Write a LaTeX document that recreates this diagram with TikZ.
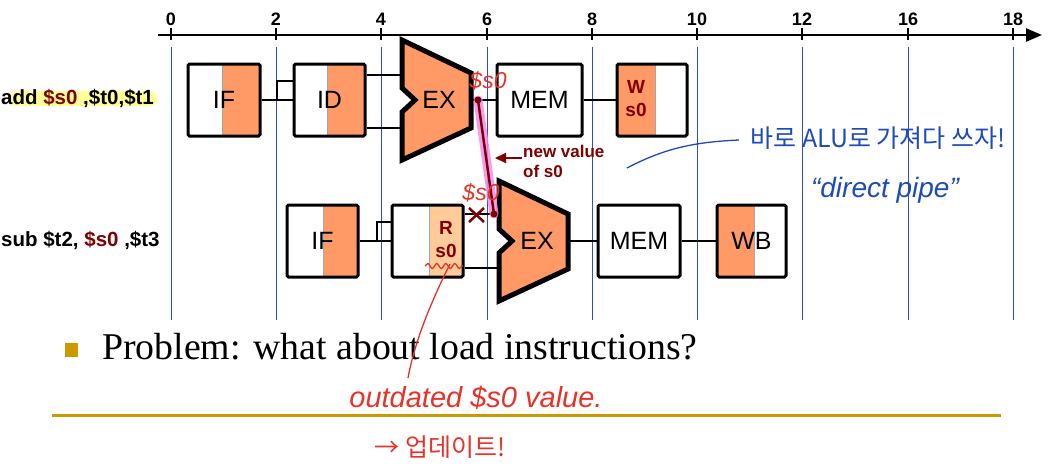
\documentclass[tikz,border=0pt]{standalone}
\usepackage{fontspec}
\setmainfont{Liberation Serif}
\setsansfont{Liberation Sans}
\newfontfamily\krfont{Noto Sans CJK KR}
\usetikzlibrary{arrows.meta,decorations.pathmorphing}
\definecolor{stageorange}{RGB}{255,153,102}
\definecolor{lightorange}{RGB}{255,204,153}
\definecolor{darkred}{RGB}{128,0,0}
\definecolor{gridblue}{RGB}{45,75,220}
\definecolor{hlyellow}{RGB}{255,255,150}
\definecolor{goldline}{RGB}{204,153,0}
\definecolor{inkred}{RGB}{232,50,40}
\definecolor{inkblue}{RGB}{30,75,185}
\definecolor{fwdpink}{RGB}{240,140,240}
\begin{document}
\begin{tikzpicture}[x=1pt,y=-1pt,
  stagebox/.style={draw, line width=3pt, rounded corners=1.5pt, minimum height=72pt, inner sep=0pt,
    font=\sffamily\fontsize{25}{25}\selectfont},
  ticklab/.style={font=\sffamily\bfseries\fontsize{18}{18}\selectfont, inner sep=0pt},
  gridline/.style={gridblue, line width=1pt},
  wire/.style={line width=2.5pt},
  exshape/.style={fill=stageorange, draw, line width=5pt, line join=miter},
  regtxt/.style={text=darkred, font=\sffamily\bfseries\fontsize{19}{23}\selectfont, align=center, inner sep=0pt},
  instr/.style={font=\sffamily\bfseries\fontsize{20.5}{20.5}\selectfont, inner sep=0pt, anchor=west},
  sep/.style={gray!70, line width=0.8pt},
  inkr/.style={text=inkred, font=\sffamily\itshape\fontsize{29}{29}\selectfont, inner sep=0pt},
  inkb/.style={text=inkblue, font=\sffamily\itshape\fontsize{28}{28}\selectfont, inner sep=0pt},
  dotmark/.style={fill=darkred, circle, inner sep=0pt, minimum size=7pt}
]
\useasboundingbox (0,0) rectangle (1052,475);

% ---- time axis ----
\coordinate (axs) at (158,35);
\coordinate (axe) at (1042,35);
\draw[line width=2.5pt, -{Triangle[length=16pt,width=13pt]}] (axs) -- (axe);
\foreach \x/\l in {171/0,276/2,381/4,487/6,592/8,697/10,802/12,908/16,1013/18}{
  \draw[line width=1.5pt] (\x,28) -- (\x,40);
  \node[ticklab] at (\x,19) {\l};
  \draw[gridline] (\x,47) -- (\x,320);
}

% ---- instruction labels ----
\fill[hlyellow, rounded corners=7pt] (8,91) rectangle (157,106);
\node[instr] (i1) at (1,98.5) {add \textcolor{darkred}{\$s0} ,\$t0,\$t1};
\node[instr] (i2) at (1,240) {sub \$t2, \textcolor{darkred}{\$s0} ,\$t3};

% ---- row 1 ----
\fill[stageorange] (222,64) rectangle (260,136);
\draw[sep] (222,64) -- (222,136);
\node[stagebox, minimum width=72pt] (if1) at (224,100) {IF};
\fill[stageorange] (327,64) rectangle (365,136);
\draw[sep] (327,64) -- (327,136);
\node[stagebox, minimum width=71pt] (id1) at (329.5,100) {ID};
\draw[exshape] (402,40) -- (471,73) -- (471,128) -- (402,160) -- (402,112) -- (415,100) -- (402,88) -- cycle;
\node[font=\sffamily\fontsize{25}{25}\selectfont, inner sep=0pt] (ex1) at (439,100) {EX};
\coordinate (ex1a) at (402,75);
\coordinate (ex1b) at (402,128);
\coordinate (ex1o) at (471,100);
\node[stagebox, minimum width=85pt] (mem1) at (539.5,100) {MEM};
\fill[stageorange] (617,64) rectangle (655,136);
\draw[sep] (655,64) -- (655,136);
\node[stagebox, minimum width=70pt] (wb1) at (652,100) {};
\node[regtxt] (wb1t) at (636,99) {W\\s0};

\coordinate (br1) at (277,81);
\draw[wire] (if1.east) -- (id1.west);
\draw[wire] (br1 |- if1.east) |- (id1.west |- br1);
\draw[wire] (id1.east |- ex1a) -- (ex1a);
\draw[wire] (id1.east |- ex1b) -- (ex1b);
\draw[wire] (ex1o) -- (mem1.west);
\draw[wire] (mem1.east) -- (wb1.west);

% ---- row 2 ----
\fill[stageorange] (323,205) rectangle (358,277);
\draw[sep] (323,205) -- (323,277);
\node[stagebox, minimum width=71pt] (if2) at (322.5,241) {IF};
\fill[lightorange] (429,205) rectangle (463,277);
\draw[sep] (429,205) -- (429,277);
\node[stagebox, minimum width=71pt] (id2) at (427.5,241) {};
\node[regtxt] (id2t) at (446,240) {R\\s0};
\draw[exshape] (499,181) -- (568,214) -- (568,269) -- (499,301) -- (499,253) -- (512,241) -- (499,229) -- cycle;
\node[font=\sffamily\fontsize{25}{25}\selectfont, inner sep=0pt] (ex2) at (537,241) {EX};
\coordinate (ex2a) at (499,214);
\coordinate (ex2b) at (499,268);
\coordinate (ex2o) at (568,241);
\node[stagebox, minimum width=82pt] (mem2) at (639,241) {MEM};
\fill[stageorange] (717,205) rectangle (754,277);
\draw[sep] (754,205) -- (754,277);
\node[stagebox, minimum width=69pt] (wb2) at (751.5,241) {WB};

\coordinate (br2) at (377,222);
\draw[wire] (if2.east) -- (id2.west);
\draw[wire] (br2 |- if2.east) |- (id2.west |- br2);
\draw[wire] (id2.east |- ex2a) -- (ex2a);
\draw[wire] (id2.east |- ex2b) -- (ex2b);
\draw[wire] (ex2o) -- (mem2.west);
\draw[wire] (mem2.east) -- (wb2.west);

% ---- forwarding ----
\coordinate (d1) at (478,100);
\coordinate (d2) at (494,214);
\draw[fwdpink, line width=9pt, line cap=round, opacity=0.85] (d1) -- (d2);
\draw[darkred, line width=2.5pt] (d1) -- (d2);
\node[dotmark] (dot1) at (d1) {};
\node[dotmark] (dot2) at (d2) {};
\draw[darkred, line width=2.5pt] (469,208) -- (484,222) (469,222) -- (484,208);
\node[text=darkred, font=\sffamily\bfseries\fontsize{17}{20}\selectfont, align=left, anchor=west, inner sep=0pt] (nv) at (523,161) {new value\\of s0};
\coordinate (nvtail) at (522,158);
\coordinate (nvtip) at (495,158);
\draw[darkred, line width=2pt, -{Triangle[length=11pt,width=10pt]}] (nvtail) -- (nvtip);

% ---- bottom text ----
\fill[goldline] (65,343) rectangle (78,357);
\node[anchor=base west, inner sep=0pt, font=\fontsize{37.8}{40}\selectfont] (prob) at (102,359) {Problem: what about load instructions?};
\draw[goldline, line width=3pt] (52,415) -- (1001,415);

% ---- handwritten annotations ----
\node[inkr, font=\sffamily\itshape\fontsize{23}{23}\selectfont] (hs1) at (488,81) {\$s0};
\node[inkr, font=\sffamily\itshape\fontsize{23}{23}\selectfont] (hs2) at (481,193) {\$s0};
\draw[inkred, line width=1.3pt, decorate, decoration={snake, segment length=9pt, amplitude=2.5pt}] (425,266) -- (463,266);
\coordinate (rl1) at (450,264);
\coordinate (rl2) at (408,378);
\draw[inkred, line width=1.3pt] (rl1) .. controls (432,300) and (415,340) .. (rl2);
\node[inkr] (outd) at (476,398) {outdated \$s0 value.};
\node[inkr, font=\krfont\fontsize{25}{25}\selectfont] (upd) at (440,447) {→ 업데이트!};
\coordinate (bc1) at (627,168);
\coordinate (bc2) at (739,140);
\draw[inkblue, line width=1.3pt] (bc1) .. controls (665,148) and (695,142) .. (bc2);
\node[inkb, font=\krfont\fontsize{25}{25}\selectfont] (kor) at (878,138) {바로 ALU로 가져다 쓰자!};
\node[inkb] (dp) at (885,190) {“direct pipe”};
\end{tikzpicture}
\end{document}
